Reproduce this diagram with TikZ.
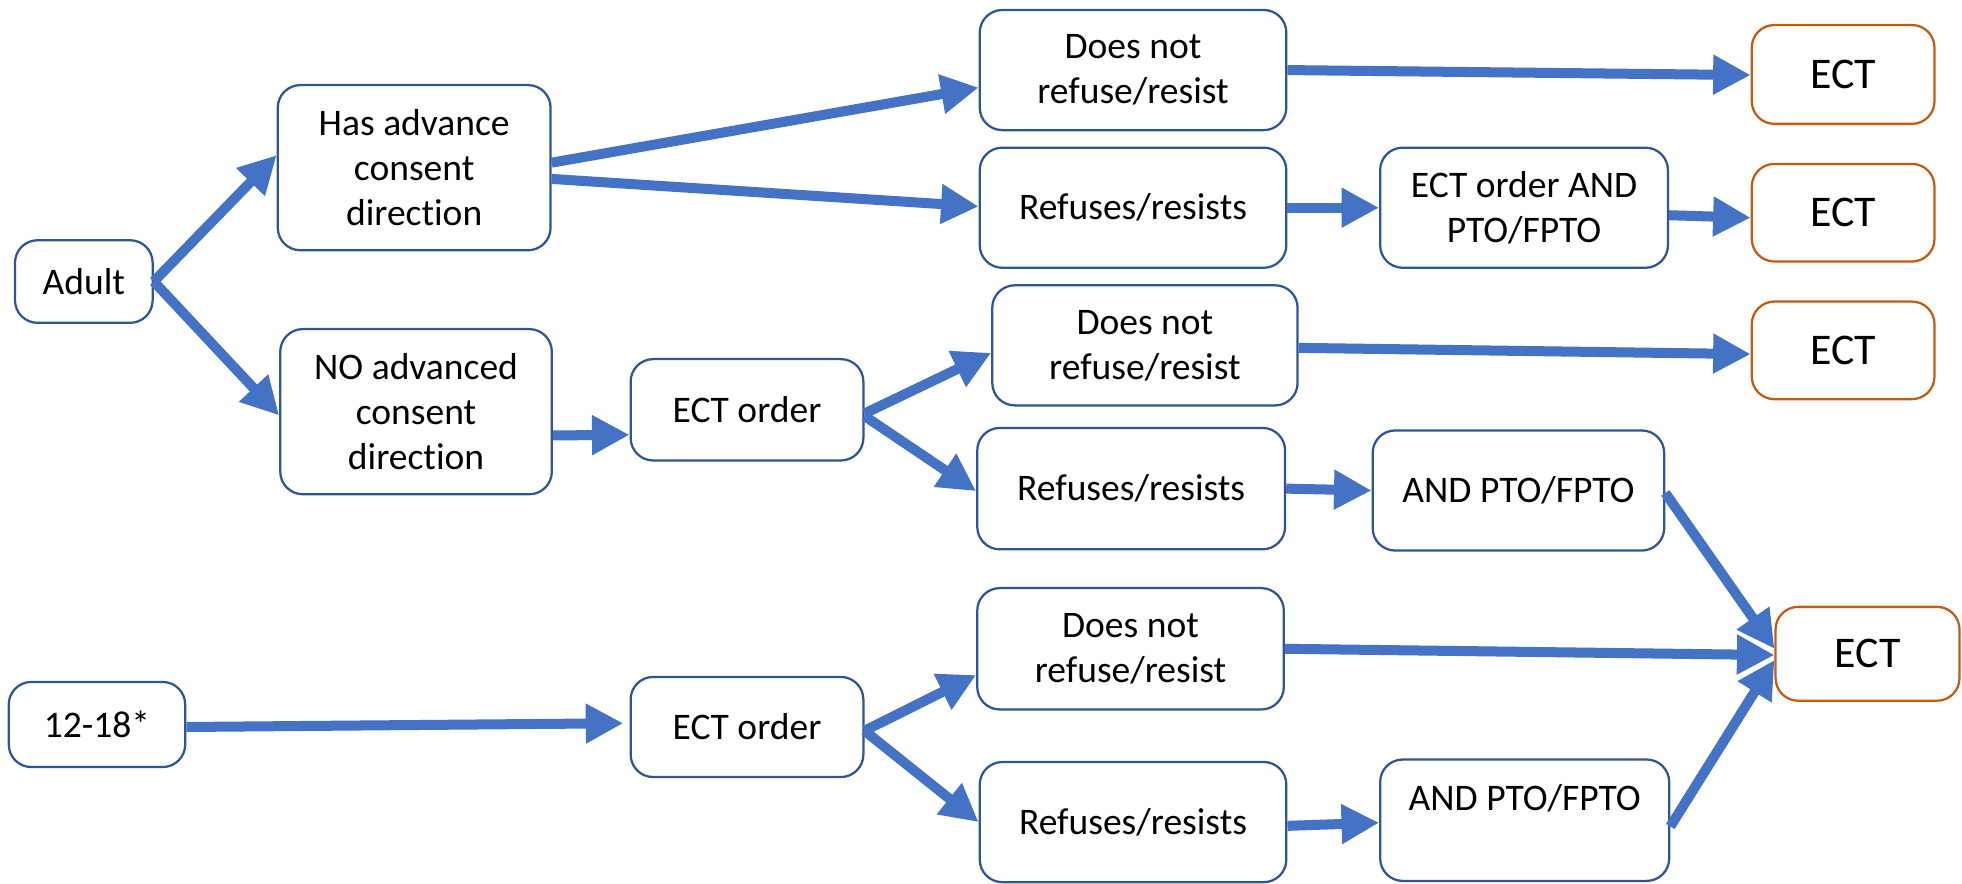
\documentclass[tikz,border=0pt]{standalone}
\usepackage{fontspec}
\setmainfont{Carlito}[Ligatures=NoCommon]
\usetikzlibrary{arrows.meta,calc}
\definecolor{boxblue}{HTML}{2F5597}
\definecolor{arrblue}{HTML}{4472C4}
\definecolor{ectorange}{HTML}{C55A11}
\begin{document}
\begin{tikzpicture}[x=1pt,y=-1pt,
  box/.style={draw=boxblue, line width=1.8pt, rounded corners=18pt, fill=white,
    align=center, font=\fontsize{30}{36}\selectfont, inner sep=0pt},
  ectbox/.style={box, draw=ectorange, font=\fontsize{35}{42}\selectfont},
  sz/.style 2 args={minimum width=#1pt, minimum height=#2pt},
  arr/.style={draw=arrblue, line width=8pt, -{Triangle[length=30pt,width=30pt]}}]
\useasboundingbox (0,0) rectangle (1568,706);
% nodes
\node[box, sz={110}{66}] (adult) at (67,225) {Adult};
\node[box, sz={218}{132}] (has) at (331,134) {Has advance\\consent\\direction};
\node[box, sz={217}{132}] (no) at (332.5,329) {NO advanced\\consent\\direction};
\node[box, sz={245}{96}] (dn1) at (905.5,56) {Does not\\refuse/resist};
\node[box, sz={245}{96}] (rr1) at (905.5,166) {Refuses/resists};
\node[box, sz={230}{96}] (ectand) at (1218,166) {ECT order AND\\PTO/FPTO};
\node[ectbox, sz={146}{79}] (e1) at (1473,59.5) {ECT};
\node[ectbox, sz={146}{78}] (e2) at (1473,170) {ECT};
\node[ectbox, sz={146}{78}] (e3) at (1473,280) {ECT};
\node[box, sz={186}{81}] (eo1) at (597,327.5) {ECT order};
\node[box, sz={244}{96}] (dn2) at (915,276) {Does not\\refuse/resist};
\node[box, sz={246}{97}] (rr2) at (904,390.5) {Refuses/resists};
\node[box, sz={233}{96}] (and1) at (1213.5,392) {AND PTO/FPTO};
\node[box, sz={245}{97}] (dn3) at (903.5,518.5) {Does not\\refuse/resist};
\node[ectbox, sz={147}{75}] (ebig) at (1492.5,522.5) {ECT};
\node[box, sz={141}{68}] (teen) at (77.5,579) {12-18*};
\node[box, sz={186}{80}] (eo2) at (597,581) {ECT order};
\node[box, sz={245}{96}] (rr3) at (905.5,657) {Refuses/resists};
\node[box, sz={231}{97}] (and2) at (1218.5,655.5) {AND PTO/FPTO\\\mbox{}};
% connectors
\draw[arr] (adult.east) -- ($(has.west)+(0,-10)$);
\draw[arr] (adult.east) -- ($(no.west)+(0,3)$);
\draw[arr] ($(has.east)+(0,-4)$) -- ($(dn1.west)+(0,14)$);
\draw[arr] ($(has.east)+(0,9)$) -- ($(rr1.west)+(0,-1)$);
\draw[arr] (dn1.east) -- ($(e1.west)+(0,0.5)$);
\draw[arr] (rr1.east) -- (ectand.west);
\draw[arr] ($(ectand.east)+(0,6)$) -- ($(e2.west)+(0,4)$);
\draw[arr] ($(no.east)+(0,19)$) -- ($(eo1.west)+(0,20)$);
\draw[arr] ($(eo1.east)+(0,3)$) -- ($(dn2.west)+(0,6)$);
\draw[arr] ($(eo1.east)+(0,5)$) -- ($(rr2.west)+(0,2)$);
\draw[arr] ($(dn2.east)+(0,2)$) -- ($(e3.west)+(0,3)$);
\draw[arr] (rr2.east) -- (and1.west);
\draw[arr] ($(and1.east)+(0,2)$) -- ($(ebig.west)+(0,-4)$);
\draw[arr] (dn3.east) -- ($(ebig.west)+(0,1)$);
\draw[arr] ($(teen.east)+(0,2)$) -- ($(eo2.west)+(-5,-3)$);
\draw[arr] ($(eo2.east)+(0,3)$) -- ($(dn3.west)+(0,21)$);
\draw[arr] ($(eo2.east)+(0,3)$) -- (rr3.west);
\draw[arr] ($(rr3.east)+(0,3)$) -- ($(and2.west)+(0,2)$);
\draw[arr] ($(and2.east)+(0,5)$) -- ($(ebig.west)+(0,5)$);
\end{tikzpicture}
\end{document}
